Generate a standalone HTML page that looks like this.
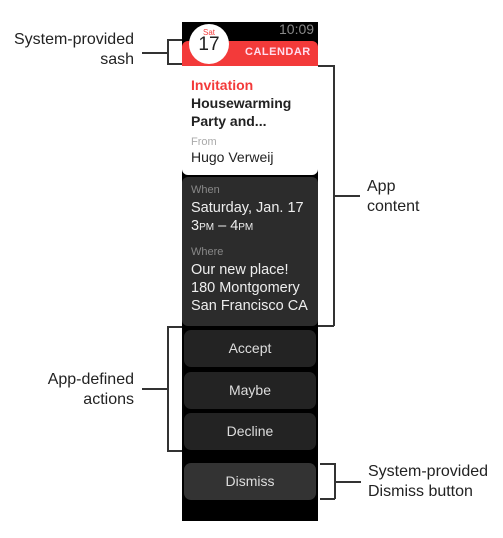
<!DOCTYPE html>
<html><head><style>
body{margin:0;width:503px;height:538px;background:#fff;position:relative;font-family:"Liberation Sans",sans-serif;overflow:hidden}
.a{position:absolute}
.l{position:absolute;background:#333}
.lbl{position:absolute;font-size:16px;color:#222;line-height:20px}
.btn{position:absolute;left:184px;width:132px;height:37px;border-radius:7px;background:#232323;color:#ddd;font-size:14px;text-align:center;line-height:37px}
</style></head><body>
<div class="a" style="left:182px;top:22px;width:136px;height:499px;background:#000"></div>
<div class="a" style="left:279px;top:21px;color:#888;font-size:14px">10:09</div>
<div class="a" style="left:182px;top:41px;width:136px;height:26px;background:#f33a3a;border-radius:6px 6px 0 0"></div>
<div class="a" style="left:245px;top:46px;color:#fde;font-size:11px;font-weight:bold;letter-spacing:.5px">CALENDAR</div>
<div class="a" style="left:182px;top:66px;width:136px;height:109px;background:#fff;border-radius:0 0 6px 6px"></div>
<div class="a" style="left:189px;top:24px;width:40px;height:40px;border-radius:50%;background:#fff"></div>
<div class="a" style="left:199px;top:28px;width:20px;text-align:center;color:#f33a3a;font-size:8px">Sat</div>
<div class="a" style="left:195px;top:34px;width:28px;text-align:center;color:#222;font-size:19px">17</div>
<div class="a" style="left:191px;top:76px;font-size:14px;line-height:18px;font-weight:bold;color:#f33a3a">Invitation</div>
<div class="a" style="left:191px;top:94px;font-size:14px;line-height:18px;font-weight:bold;color:#222">Housewarming<br>Party and...</div>
<div class="a" style="left:191px;top:136px;font-size:11px;color:#aaa">From</div>
<div class="a" style="left:191px;top:149px;font-size:14px;color:#222">Hugo Verweij</div>
<div class="a" style="left:182px;top:177px;width:136px;height:149px;background:#2c2c2c;border-radius:6px"></div>
<div class="a" style="left:191px;top:184px;font-size:11px;color:#888">When</div>
<div class="a" style="left:191px;top:199px;font-size:14.5px;line-height:18px;color:#eee">Saturday, Jan. 17<br>3<span style="font-size:10px">PM</span> – 4<span style="font-size:10px">PM</span></div>
<div class="a" style="left:191px;top:246px;font-size:11px;color:#888">Where</div>
<div class="a" style="left:191px;top:261px;font-size:14.5px;line-height:18px;color:#eee">Our new place!<br>180 Montgomery<br>San Francisco CA</div>
<div class="btn" style="top:330px">Accept</div>
<div class="btn" style="top:372px">Maybe</div>
<div class="btn" style="top:413px">Decline</div>
<div class="btn" style="top:463px;background:#333">Dismiss</div>
<div class="l" style="left:167px;top:39px;width:2px;height:25px"></div>
<div class="l" style="left:167px;top:39px;width:15px;height:1.5px"></div>
<div class="l" style="left:167px;top:63px;width:15px;height:1.5px"></div>
<div class="l" style="left:142px;top:52px;width:25px;height:1.5px"></div>
<div class="lbl" style="right:369px;top:30px;text-align:right">System-provided<br>sash</div>
<div class="l" style="left:333px;top:65px;width:2px;height:261px"></div>
<div class="l" style="left:318px;top:65px;width:16px;height:1.5px"></div>
<div class="l" style="left:318px;top:325px;width:16px;height:1.5px"></div>
<div class="l" style="left:334px;top:195px;width:26px;height:1.5px"></div>
<div class="lbl" style="left:367px;top:177px">App<br>content</div>
<div class="l" style="left:167px;top:326px;width:2px;height:125px"></div>
<div class="l" style="left:167px;top:326px;width:15px;height:1.5px"></div>
<div class="l" style="left:167px;top:450px;width:15px;height:1.5px"></div>
<div class="l" style="left:142px;top:388px;width:25px;height:1.5px"></div>
<div class="lbl" style="right:369px;top:370px;text-align:right">App-defined<br>actions</div>
<div class="l" style="left:334px;top:463px;width:2px;height:36px"></div>
<div class="l" style="left:320px;top:463px;width:15px;height:1.5px"></div>
<div class="l" style="left:320px;top:498px;width:15px;height:1.5px"></div>
<div class="l" style="left:335px;top:481px;width:26px;height:1.5px"></div>
<div class="lbl" style="left:368px;top:462px">System-provided<br>Dismiss button</div>
</body></html>
